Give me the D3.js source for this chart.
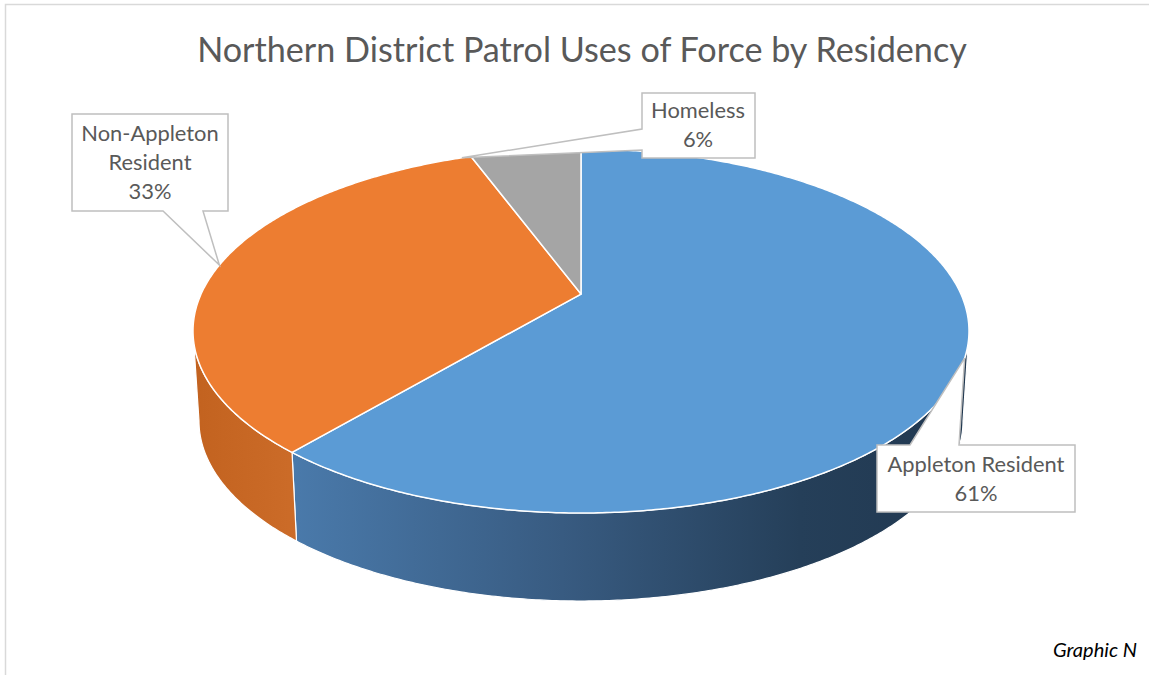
<!DOCTYPE html>
<html>
<head>
<meta charset="utf-8">
<script src="https://cdn.jsdelivr.net/npm/d3@7"></script>
<style>
  body { margin: 0; background: #ffffff; }
  svg { display: block; }
</style>
</head>
<body>
<script>
// ---- data ----
const categories = ["Appleton Resident", "Non-Appleton Resident", "Homeless"];
const shares = [61.1, 33.3, 5.6];
const labelLines = [["Appleton Resident"], ["Non-Appleton", "Resident"], ["Homeless"]];
const topColors = ["#5b9bd5", "#ed7d31", "#a5a5a5"];
const titleText = "Northern District Patrol Uses of Force by Residency";
const footText = "Graphic N";

// ---- layout ----
const W = 1149, H = 675;
const FONT = "Lato, 'Open Sans', sans-serif";
const topFace = { cx: 581, cy: 331, rx: 388, ry: 182 };
const bottomFace = { cx: 581, cy: 421, rx: 382, ry: 180 };
const tilt = -0.203;               // perspective shift of the disc centre toward the far rim

// callout boxes: box rect, where the wedge leaves the box, which angle it points at
const callouts = [
  { box: [877, 445, 1075, 512], side: "top",    base: [910, 959], anchor: "mid",   cx: 976, y0: 472 },
  { box: [72, 114, 228, 211],   side: "bottom", base: [163, 203], anchor: "mid",   cx: 150, y0: 141 },
  { box: [642, 93, 755, 158],   side: "left",   base: [129, 150], anchor: "start", cx: 698, y0: 118 }
];
const lineH = 29;

const svg = d3.select("body").append("svg")
  .attr("width", W).attr("height", H)
  .attr("viewBox", `0 0 ${W} ${H}`);

// frame (top and left edges)
svg.append("path")
  .attr("d", `M5.5,${H} V4.5 H${W}`)
  .attr("fill", "none").attr("stroke", "#d9d9d9").attr("stroke-width", 1.5);

// projective map of the unit disc onto the tilted face ellipse
function project(theta, face, r = 1) {
  const x = r * Math.sin(theta), v = -r * Math.cos(theta);
  const d = 1 + tilt * v;
  const xp = x * Math.sqrt(1 - tilt * tilt) / d;
  const vp = (v + tilt) / d;
  return [face.cx + face.rx * xp, face.cy + face.ry * vp];
}
const apex = project(0, topFace, 0);

function rimPoints(a, b, face) {
  const n = Math.max(2, Math.ceil(Math.abs(b - a) / (Math.PI / 360)));
  return d3.range(n + 1).map(i => project(a + (b - a) * i / n, face));
}

const pie = d3.pie().sort(null).value(d => d);
const arcs = pie(shares);
const line = d3.line();

// gradients for the visible rim walls
const defs = svg.append("defs");
const gBlue = defs.append("linearGradient").attr("id", "sideBlue")
  .attr("gradientUnits", "userSpaceOnUse").attr("x1", 290).attr("x2", 970).attr("y1", 0).attr("y2", 0);
[["0%", "#4a7aab"], ["40%", "#385b81"], ["75%", "#253f59"], ["100%", "#213850"]]
  .forEach(([o, c]) => gBlue.append("stop").attr("offset", o).attr("stop-color", c));
const gOrange = defs.append("linearGradient").attr("id", "sideOrange")
  .attr("gradientUnits", "userSpaceOnUse").attr("x1", 190).attr("x2", 300).attr("y1", 0).attr("y2", 0);
[["0%", "#c2621f"], ["100%", "#cc6c29"]]
  .forEach(([o, c]) => gOrange.append("stop").attr("offset", o).attr("stop-color", c));
const sideFills = ["url(#sideBlue)", "url(#sideOrange)", "#7c7c7c"];

// front half of the rim: between the two horizontal extremes of the ellipse
const frontStart = Math.acos(tilt);
const frontEnd = 2 * Math.PI - Math.acos(tilt);

const sides = svg.append("g");
arcs.forEach((a, i) => {
  const s = Math.max(a.startAngle, frontStart);
  const e = Math.min(a.endAngle, frontEnd);
  if (s >= e) return;
  const pts = rimPoints(s, e, topFace).concat(rimPoints(e, s, bottomFace));
  sides.append("path")
    .attr("d", line(pts) + "Z")
    .attr("fill", sideFills[i])
    .attr("stroke", "#ffffff").attr("stroke-width", 1.2).attr("stroke-linejoin", "round");
});

// top faces
const tops = svg.append("g");
arcs.forEach((a, i) => {
  const pts = [apex].concat(rimPoints(a.startAngle, a.endAngle, topFace));
  tops.append("path")
    .attr("d", line(pts) + "Z")
    .attr("fill", topColors[i])
    .attr("stroke", "#ffffff").attr("stroke-width", 1.5).attr("stroke-linejoin", "round");
});

// label font size fitted to the widest label
const probe = svg.append("text").attr("font-family", FONT).attr("font-size", 20).text("Appleton Resident");
const labelSize = 20 * 177 / probe.node().getComputedTextLength();
probe.remove();

// callouts
const fmt = v => Math.round(v) + "%";
const labels = svg.append("g");
arcs.forEach((a, i) => {
  const c = callouts[i];
  const ang = c.anchor === "mid" ? (a.startAngle + a.endAngle) / 2 : a.startAngle - 0.03;
  const tip = project(ang, topFace);
  const [x0, y0, x1, y1] = c.box;
  let d;
  if (c.side === "top") {
    d = `M${x0},${y0} H${c.base[0]} L${tip[0]},${tip[1]} L${c.base[1]},${y0} H${x1} V${y1} H${x0} Z`;
  } else if (c.side === "bottom") {
    d = `M${x0},${y0} H${x1} V${y1} H${c.base[1]} L${tip[0]},${tip[1]} L${c.base[0]},${y1} H${x0} Z`;
  } else {
    d = `M${x0},${y0} H${x1} V${y1} H${x0} V${c.base[1]} L${tip[0]},${tip[1]} L${x0},${c.base[0]} Z`;
  }
  labels.append("path").attr("d", d)
    .attr("fill", "#ffffff").attr("stroke", "#bfbfbf").attr("stroke-width", 1.5)
    .attr("stroke-linejoin", "miter");
  const rows = labelLines[i].concat([fmt(a.data)]);
  const t = labels.append("text")
    .attr("font-family", FONT).attr("font-size", labelSize)
    .attr("fill", "#595959").attr("text-anchor", "middle");
  rows.forEach((r, j) => t.append("tspan").attr("x", c.cx).attr("y", c.y0 + j * lineH).text(r));
});

// title fitted to its span
const title = svg.append("text")
  .attr("font-family", FONT).attr("font-size", 32)
  .attr("fill", "#595959").attr("text-anchor", "middle")
  .attr("x", 582).attr("y", 62).text(titleText);
const tw = title.node().getComputedTextLength();
title.attr("font-size", 32 * 770 / tw);

// footer note fitted to its span
const foot = svg.append("text")
  .attr("font-family", FONT).attr("font-size", 17).attr("font-style", "italic")
  .attr("fill", "#000000").attr("text-anchor", "end")
  .attr("x", 1137).attr("y", 657).text(footText);
const fw = foot.node().getComputedTextLength();
foot.attr("font-size", 17 * 84 / fw);
</script>
</body>
</html>
